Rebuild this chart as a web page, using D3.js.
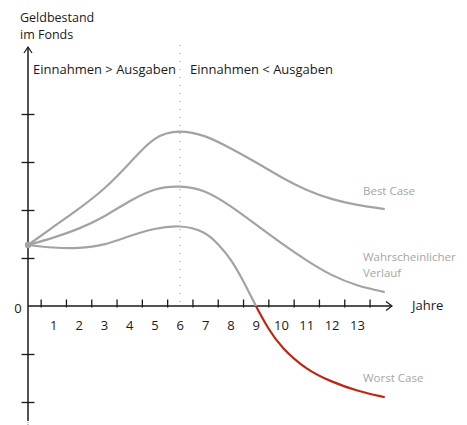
<!DOCTYPE html>
<html lang="de">
<head>
    <meta charset="UTF-8">
    <title>Geldbestand im Fonds</title>
    <style>
        body { margin: 0; background: #fff; }
        text { font-family: "Open Sans", sans-serif; }
    </style>
</head>
<script src="https://d3js.org/d3.v7.min.js"></script>
<body>
<script>
    // values in units of one y tick, years on x
    var years = [0, 1, 2, 3, 4, 5, 6, 7, 8, 9, 10, 11, 12, 13, 14.1];
    var bestCase = [1.27, 1.65, 2.02, 2.42, 2.96, 3.56, 3.67, 3.56, 3.29, 3.0, 2.68, 2.41, 2.22, 2.1, 2.02];
    var likelyCase = [1.27, 1.42, 1.6, 1.85, 2.19, 2.46, 2.51, 2.42, 2.09, 1.7, 1.31, 0.95, 0.63, 0.42, 0.29];
    var worstYears = [0, 1, 2, 3, 4, 5, 6, 7, 7.5, 8, 8.5, 9, 9.5, 10, 11, 12, 13, 14.1];
    var worstCase = [1.27, 1.21, 1.2, 1.26, 1.46, 1.62, 1.69, 1.56, 1.3, 1.0, 0.54, 0.0, -0.48, -0.86, -1.33, -1.58, -1.77, -1.9];
    var yearLabels = [1, 2, 3, 4, 5, 6, 7, 8, 9, 10, 11, 12, 13];
    var yTicks = [-2, -1, 1, 2, 3, 4];

    var width = 467, height = 425;

    var svg = d3.select("body")
        .append("svg")
        .attr("width", width)
        .attr("height", height);

    var x = d3.scaleLinear().domain([0, 14]).range([28, 382.2]);
    var y = d3.scaleLinear().domain([0, 5]).range([306, 66]);

    var ink = "#1a1a1a";
    var gray = "#a3a3a3";

    // divider at year 6
    svg.append("line")
        .attr("x1", x(6)).attr("x2", x(6))
        .attr("y1", 45).attr("y2", y(0))
        .attr("stroke", "#999")
        .attr("stroke-width", 1)
        .attr("stroke-dasharray", "1,7");

    // y axis
    var yAxis = svg.append("g")
        .attr("transform", "translate(" + x(0) + ",0)")
        .call(d3.axisLeft(y).tickValues(yTicks).tickSize(6.5).tickFormat(""));
    yAxis.select(".domain").remove();
    yAxis.selectAll(".tick line")
        .attr("x1", -6.5).attr("x2", 6.5)
        .attr("stroke", ink).attr("stroke-width", 1.3);

    svg.append("line")
        .attr("x1", x(0)).attr("x2", x(0))
        .attr("y1", 47).attr("y2", 421)
        .attr("stroke", ink).attr("stroke-width", 1.5);
    svg.append("path")
        .attr("d", "M" + (x(0) - 4) + ",53L" + x(0) + ",47L" + (x(0) + 4) + ",53")
        .attr("fill", "none").attr("stroke", ink).attr("stroke-width", 1.2);
    svg.append("line")
        .attr("x1", x(0)).attr("x2", x(0))
        .attr("y1", 422).attr("y2", 425)
        .attr("stroke", "#888").attr("stroke-width", 1)
        .attr("stroke-dasharray", "1,1");

    // x axis
    var halfYears = d3.range(0.5, 14, 1);
    var xAxis = svg.append("g")
        .attr("transform", "translate(0," + y(0) + ")")
        .call(d3.axisBottom(x).tickValues(halfYears).tickSize(-6.5).tickFormat(""));
    xAxis.select(".domain").remove();
    xAxis.selectAll(".tick line")
        .attr("y2", -6.5).attr("y1", 1.5)
        .attr("stroke", ink).attr("stroke-width", 1.3);

    svg.append("line")
        .attr("x1", x(0)).attr("x2", 392)
        .attr("y1", y(0)).attr("y2", y(0))
        .attr("stroke", ink).attr("stroke-width", 1.5);
    svg.append("path")
        .attr("d", "M386," + (y(0) - 4.5) + "L392," + y(0) + "L386," + (y(0) + 4.5))
        .attr("fill", "none").attr("stroke", ink).attr("stroke-width", 1.2);

    var labelAxis = svg.append("g")
        .attr("transform", "translate(0," + y(0) + ")")
        .call(d3.axisBottom(x).tickValues(yearLabels).tickSize(0).tickPadding(15));
    labelAxis.select(".domain").remove();
    labelAxis.selectAll("text")
        .attr("font-size", "13px")
        .attr("font-family", "Open Sans")
        .attr("fill", ink);

    svg.append("text")
        .attr("x", 18).attr("y", y(0) + 7)
        .attr("text-anchor", "middle")
        .attr("font-size", "13px")
        .attr("fill", ink)
        .text("0");

    svg.append("text")
        .attr("x", 412).attr("y", 310)
        .attr("font-size", "13px")
        .attr("fill", ink)
        .text("Jahre");

    svg.append("text")
        .attr("x", 20).attr("y", 22)
        .attr("font-size", "12.5px")
        .attr("fill", ink)
        .text("Geldbestand");
    svg.append("text")
        .attr("x", 20).attr("y", 39)
        .attr("font-size", "12.5px")
        .attr("fill", ink)
        .text("im Fonds");

    svg.append("text")
        .attr("x", 33).attr("y", 74)
        .attr("font-size", "13px")
        .attr("fill", ink)
        .text("Einnahmen > Ausgaben");
    svg.append("text")
        .attr("x", 190).attr("y", 74)
        .attr("font-size", "13px")
        .attr("fill", ink)
        .text("Einnahmen < Ausgaben");

    // curves
    var line = d3.line()
        .x(function (d) { return x(d[0]); })
        .y(function (d) { return y(d[1]); })
        .curve(d3.curveBasis);

    function pairs(xs, ys) {
        return xs.map(function (v, i) { return [v, ys[i]]; });
    }

    var defs = svg.append("defs");
    defs.append("clipPath").attr("id", "above")
        .append("rect").attr("x", 0).attr("y", 0).attr("width", width).attr("height", y(0));
    defs.append("clipPath").attr("id", "below")
        .append("rect").attr("x", 0).attr("y", y(0)).attr("width", width).attr("height", height - y(0));

    svg.append("path")
        .attr("d", line(pairs(years, bestCase)))
        .attr("fill", "none").attr("stroke", gray).attr("stroke-width", 2.2);
    svg.append("path")
        .attr("d", line(pairs(years, likelyCase)))
        .attr("fill", "none").attr("stroke", gray).attr("stroke-width", 2.2);
    svg.append("path")
        .attr("d", line(pairs(worstYears, worstCase)))
        .attr("clip-path", "url(#above)")
        .attr("fill", "none").attr("stroke", gray).attr("stroke-width", 2.2);
    svg.append("path")
        .attr("d", line(pairs(worstYears, worstCase)))
        .attr("clip-path", "url(#below)")
        .attr("fill", "none").attr("stroke", "#c0260e").attr("stroke-width", 2.2);

    svg.append("circle")
        .attr("cx", x(years[0])).attr("cy", y(bestCase[0]))
        .attr("r", 3.2)
        .attr("fill", gray);

    // series labels
    var labels = svg.append("g")
        .attr("font-size", "11.5px")
        .attr("fill", "#a6a6a6");
    labels.append("text").attr("x", 363).attr("y", 195).text("Best Case");
    labels.append("text").attr("x", 363).attr("y", 261).text("Wahrscheinlicher");
    labels.append("text").attr("x", 363).attr("y", 277).text("Verlauf");
    labels.append("text").attr("x", 363).attr("y", 382).text("Worst Case");
</script>
</body>
</html>
